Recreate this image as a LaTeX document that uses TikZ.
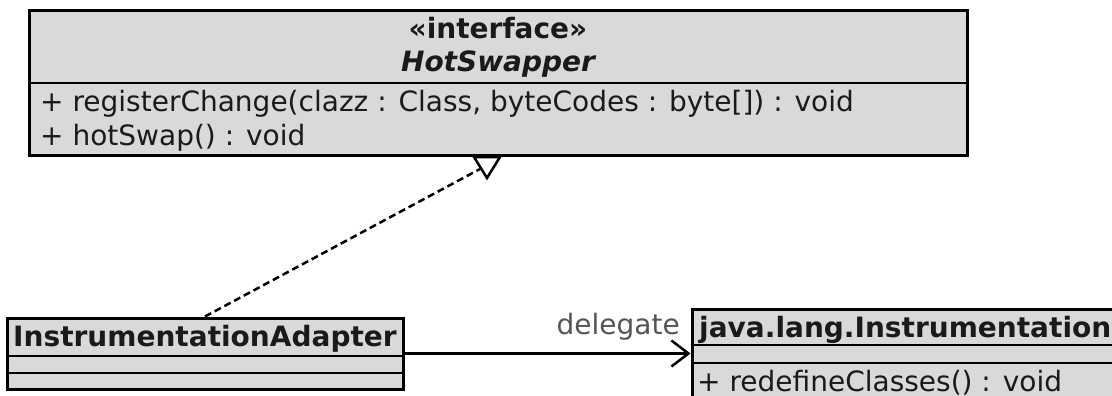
\documentclass[tikz,border=0pt]{standalone}
\usepackage{fontspec}
\setmainfont{DejaVu Sans}[BoldFont={DejaVu Sans Bold},ItalicFont={DejaVu Sans Oblique},BoldItalicFont={DejaVu Sans Bold Oblique}]
\usetikzlibrary{arrows.meta}
\definecolor{boxfill}{HTML}{D9D9D9}
\definecolor{txt}{HTML}{1A1A1A}
\definecolor{lbl}{HTML}{555555}
\begin{document}
\begin{tikzpicture}[x=1pt,y=-1pt,
  classbox/.style={draw=black,fill=boxfill,line width=3pt,rectangle,inner sep=0pt},
  sepline/.style={line width=2.5pt},
  umltext/.style={font=\fontsize{28}{32}\selectfont,text=txt,inner sep=0pt},
  realize/.style={line width=2.5pt,dash pattern=on 7pt off 4pt},
  assoc/.style={line width=2.5pt,-{Straight Barb[length=17pt,width=26pt]}},
  opentri/.style={line width=2.5pt,fill=white,line join=miter}]
\clip (0,0) rectangle (1112,396);
\fill[white] (0,0) rectangle (1112,396);
% HotSwapper interface
\node[classbox,minimum width=938pt,minimum height=144pt] (hs) at (498,83) {};
\draw[sepline] (hs.west) -- (hs.east);
\node[umltext,anchor=base,font=\fontsize{28}{32}\selectfont\bfseries] (hsst) at (498,39) {«interface»};
\node[umltext,anchor=base,font=\fontsize{28}{32}\selectfont\bfseries\itshape] (hsname) at (498,72) {HotSwapper};
\node[umltext,anchor=base west] (hsop1) at (40,112) {+ registerChange(clazz : Class, byteCodes : byte[]) : void};
\node[umltext,anchor=base west] (hsop2) at (40,145) {+ hotSwap() : void};
% InstrumentationAdapter
\node[classbox,minimum width=396pt,minimum height=71pt] (ia) at (205,353.5) {};
\draw[sepline] (ia.west |- 0,356) -- (ia.east |- 0,356);
\draw[sepline] (ia.west |- 0,373) -- (ia.east |- 0,373);
\node[umltext,anchor=base,font=\fontsize{28}{32}\selectfont\bfseries] (ianame) at (205,346) {InstrumentationAdapter};
% java.lang.Instrumentation
\node[classbox,minimum width=448pt,minimum height=111pt] (ji) at (916,364.5) {};
\draw[sepline] (ji.west |- 0,345) -- (ji.east |- 0,345);
\draw[sepline] (ji.west |- 0,363) -- (ji.east |- 0,363);
\node[umltext,anchor=base west,font=\fontsize{28}{32}\selectfont\bfseries] (jiname) at (699,337) {java.lang.Instrumentation};
\node[umltext,anchor=base west] (jiop1) at (697,391) {+ redefineClasses() : void};
% realization
\coordinate (tri) at (480,169);
\draw[realize] (ia.north) -- (tri);
\draw[opentri] (474,157) -- (500,157) -- (487,178) -- cycle;
% association
\draw[assoc] (ia.east) -- (ia.east -| ji.west);
\node[umltext,anchor=base east,text=lbl] (deleg) at (680,334) {delegate};
\end{tikzpicture}
\end{document}
